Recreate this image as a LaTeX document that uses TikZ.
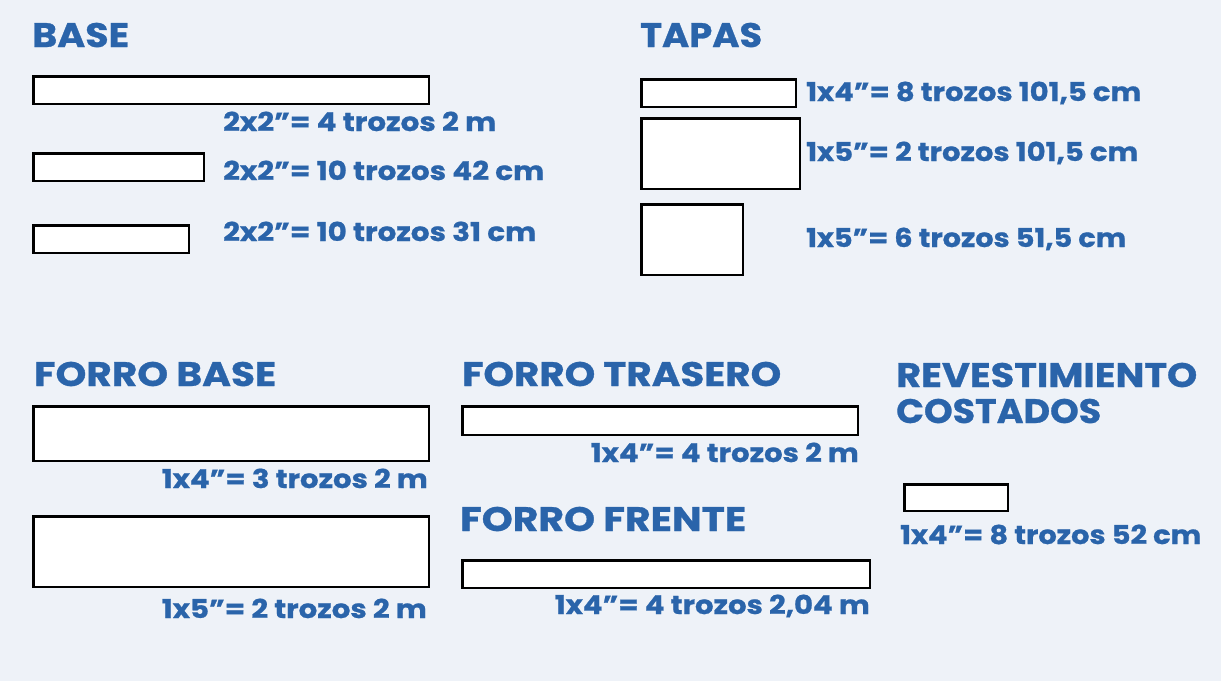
\documentclass[tikz,border=0pt]{standalone}
\usepackage{fontspec}
\setmainfont{Poppins}[BoldFeatures={FakeBold=0.8}]
\usepackage{graphicx}
\definecolor{tblue}{HTML}{2A64AA}
\definecolor{bgc}{HTML}{EEF2F8}
\newcommand\fitto[2]{\setbox0=\hbox{#2}\pgfmathsetmacro\myfac{#1/\the\wd0}\scalebox{\myfac}[1]{\box0}}
\newcommand\board[5]{\node[board, anchor=north west, minimum width={(#4-#2-2.5)*1pt}, minimum height={(#5-#3-2.5)*1pt}] (#1) at ({#2+1.25},{#3+1.25}) {};}
\tikzset{
  ttl/.style={font=\bfseries\fontsize{34}{36}\selectfont, text=tblue, inner sep=0pt, anchor=base west},
  lbl/.style={font=\bfseries\fontsize{26}{28}\selectfont, text=tblue, inner sep=0pt, anchor=base west},
  lblr/.style={lbl, anchor=base east},
  board/.style={draw=black, fill=white, line width=2.6pt, inner sep=0pt, rectangle}
}
\begin{document}
\begin{tikzpicture}[x=1pt,y=-1pt]
\fill[bgc] (0,0) rectangle (1221,681);
\useasboundingbox (0,0) rectangle (1221,681);
% titles
\node[ttl] (tbase) at (32,47) {\fitto{97}{BASE}};
\node[ttl] (ttapas) at (640,47) {\fitto{122}{TAPAS}};
\node[ttl] (tfbase) at (34,386) {\fitto{242}{FORRO BASE}};
\node[ttl] (tftras) at (462,386) {\fitto{319}{FORRO TRASERO}};
\node[ttl] (tffren) at (460,531) {\fitto{286}{FORRO FRENTE}};
\node[ttl] (trev1) at (896,387) {\fitto{301}{REVESTIMIENTO}};
\node[ttl] (trev2) at (896,423) {\fitto{205}{COSTADOS}};
% boards
\board{r1}{31}{74}{429}{104}
\board{r2}{31}{151}{204}{181}
\board{r3}{31}{223}{189}{253}
\board{t1}{639}{77}{796}{107}
\board{t2}{639}{116}{800}{189}
\board{t3}{639}{202}{743}{275}
\board{fb1}{31}{404}{429}{461}
\board{fb2}{31}{514}{429}{587}
\board{ft}{460}{404}{858}{435}
\board{ff}{460}{558}{870}{588}
\board{rc}{902}{482}{1008}{511}
% labels
\node[lbl] (l1) at (223,131) {\fitto{273}{2x2”= 4 trozos 2 m}};
\node[lbl] (l2) at (223,180) {\fitto{321}{2x2”= 10 trozos 42 cm}};
\node[lbl] (l3) at (223,241) {\fitto{313}{2x2”= 10 trozos 31 cm}};
\node[lbl] (lt1) at (806,101) {\fitto{335}{1x4”= 8 trozos 101,5 cm}};
\node[lbl] (lt2) at (806,161) {\fitto{332}{1x5”= 2 trozos 101,5 cm}};
\node[lbl] (lt3) at (806,247) {\fitto{320}{1x5”= 6 trozos 51,5 cm}};
\node[lblr] (lfb1) at (428,488) {\fitto{266}{1x4”= 3 trozos 2 m}};
\node[lblr] (lfb2) at (427,618) {\fitto{265}{1x5”= 2 trozos 2 m}};
\node[lblr] (lft) at (859,462) {\fitto{268}{1x4”= 4 trozos 2 m}};
\node[lblr] (lff) at (870,614) {\fitto{315}{1x4”= 4 trozos 2,04 m}};
\node[lbl] (lrc) at (900,544) {\fitto{301}{1x4”= 8 trozos 52 cm}};
\end{tikzpicture}
\end{document}
